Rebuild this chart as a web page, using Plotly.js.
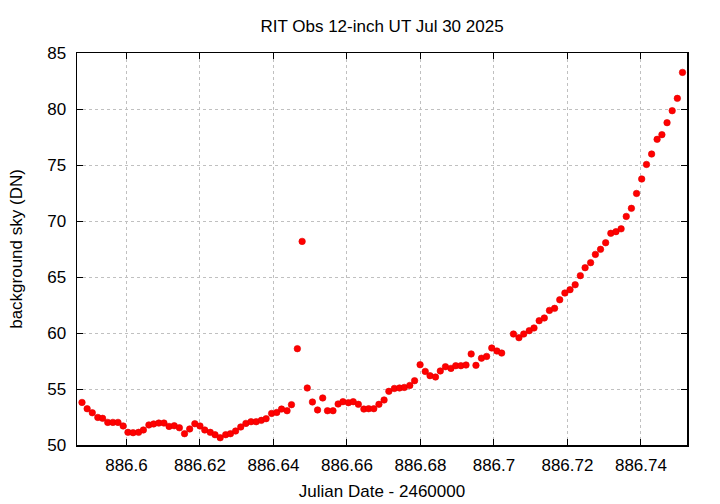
<!DOCTYPE html>
<html>
<head>
<meta charset="utf-8">
<script src="https://cdn.plot.ly/plotly-3.0.1.min.js"></script>
<style>html,body{margin:0;padding:0;background:#fff;}#plot{width:720px;height:504px;}</style>
</head>
<body>
<div id="plot"></div>
<script>
// Julian Date - 2460000
const julianDate = [
  886.5879, 886.5893, 886.5907, 886.5922, 886.5935, 886.5949, 886.5963, 886.5977, 886.5991, 886.6004,
  886.6018, 886.6033, 886.6046, 886.6061, 886.6074, 886.6088, 886.6102, 886.6116, 886.6130, 886.6144,
  886.6158, 886.6172, 886.6186, 886.6200, 886.6213, 886.6228, 886.6241, 886.6255, 886.6270, 886.6283,
  886.6297, 886.6311, 886.6325, 886.6339, 886.6353, 886.6367, 886.6380, 886.6395, 886.6409, 886.6422,
  886.6437, 886.6449, 886.6465, 886.6478, 886.6492, 886.6506, 886.6520, 886.6534, 886.6547, 886.6562,
  886.6576, 886.6589, 886.6604, 886.6617, 886.6631, 886.6646, 886.6659, 886.6673, 886.6687, 886.6701,
  886.6714, 886.6729, 886.6743, 886.6756, 886.6771, 886.6784, 886.6799, 886.6813, 886.6826, 886.6841,
  886.6854, 886.6868, 886.6883, 886.6896, 886.6910, 886.6924, 886.6938, 886.6951, 886.6966, 886.6980,
  886.6994, 886.7008, 886.7021, 886.7053, 886.7068, 886.7081, 886.7096, 886.7109, 886.7123, 886.7137,
  886.7151, 886.7165, 886.7179, 886.7193, 886.7207, 886.7221, 886.7235, 886.7248, 886.7263, 886.7276,
  886.7290, 886.7304, 886.7318, 886.7332, 886.7346, 886.7360, 886.7374, 886.7388, 886.7402, 886.7415,
  886.7429, 886.7444, 886.7457, 886.7471, 886.7485, 886.7499, 886.7513
];
// background sky (DN)
const skyBackground = [
  53.80, 53.24, 52.88, 52.46, 52.38, 52.02, 52.02, 52.02, 51.70, 51.13,
  51.10, 51.13, 51.34, 51.79, 51.88, 51.96, 51.96, 51.66, 51.72, 51.54,
  51.01, 51.43, 51.90, 51.70, 51.34, 51.13, 50.92, 50.65, 50.92, 51.01,
  51.25, 51.61, 51.93, 52.08, 52.08, 52.20, 52.35, 52.82, 52.91, 53.21,
  53.06, 53.60, 58.60, 68.18, 55.09, 53.84, 53.13, 54.20, 53.06, 53.06,
  53.66, 53.87, 53.78, 53.87, 53.63, 53.21, 53.24, 53.24, 53.63, 54.02,
  54.79, 55.05, 55.09, 55.14, 55.32, 55.74, 57.17, 56.57, 56.19, 56.07,
  56.61, 56.99, 56.84, 57.08, 57.08, 57.14, 58.13, 57.11, 57.75, 57.91,
  58.66, 58.39, 58.21, 59.91, 59.58, 59.91, 60.21, 60.45, 61.10, 61.34,
  62.02, 62.20, 62.97, 63.57, 63.87, 64.31, 65.12, 65.83, 66.28, 67.02,
  67.47, 68.06, 68.90, 69.05, 69.30, 70.41, 71.13, 72.46, 73.75, 75.05,
  75.98, 77.29, 77.71, 78.78, 79.85, 80.95, 83.27
];
const xTickVals = [886.6, 886.62, 886.64, 886.66, 886.68, 886.7, 886.72, 886.74];
const xTickText = ["886.6", "886.62", "886.64", "886.66", "886.68", "886.7", "886.72", "886.74"];
const yTickVals = [50, 55, 60, 65, 70, 75, 80, 85];

const font = {family: "Liberation Sans, Arial, sans-serif", size: 17, color: "#000"};

const trace = {
  x: julianDate, y: skyBackground, type: "scatter", mode: "markers",
  marker: {color: "#ff0000", size: 6.5, line: {color: "#e00000", width: 0.6}},
  hoverinfo: "x+y"
};

const layout = {
  width: 720, height: 504,
  margin: {l: 77, r: 33, t: 53, b: 59},
  paper_bgcolor: "#fff", plot_bgcolor: "#fff",
  font: font,
  showlegend: false,
  title: {text: "RIT Obs 12-inch UT Jul 30 2025", font: font, x: 0.5306, xanchor: "center", y: 0.948, yanchor: "middle"},
  xaxis: {
    range: [886.58654, 886.75253], autorange: false,
    tickvals: xTickVals, ticktext: xTickText,
    ticks: "inside", ticklen: 6, tickcolor: "#000", tickwidth: 1,
    showline: true, linecolor: "#000", linewidth: 1.5, mirror: "allticks",
    showgrid: true, gridcolor: "#c0c0c0", griddash: "dot", gridwidth: 1,
    zeroline: false, tickfont: font, ticklabelstandoff: 4,
    title: {text: "Julian Date - 2460000", font: font, standoff: 11}
  },
  yaxis: {
    range: [50, 85], autorange: false,
    tickvals: yTickVals,
    ticks: "inside", ticklen: 6, tickcolor: "#000", tickwidth: 1,
    showline: true, linecolor: "#000", linewidth: 1.5, mirror: "allticks",
    showgrid: true, gridcolor: "#c0c0c0", griddash: "dot", gridwidth: 1,
    zeroline: false, tickfont: font, ticklabelstandoff: 6,
    title: {text: "background sky (DN)", font: font, standoff: 20}
  }
};

Plotly.newPlot("plot", [trace], layout, {displayModeBar: false, staticPlot: true});
</script>
</body>
</html>
